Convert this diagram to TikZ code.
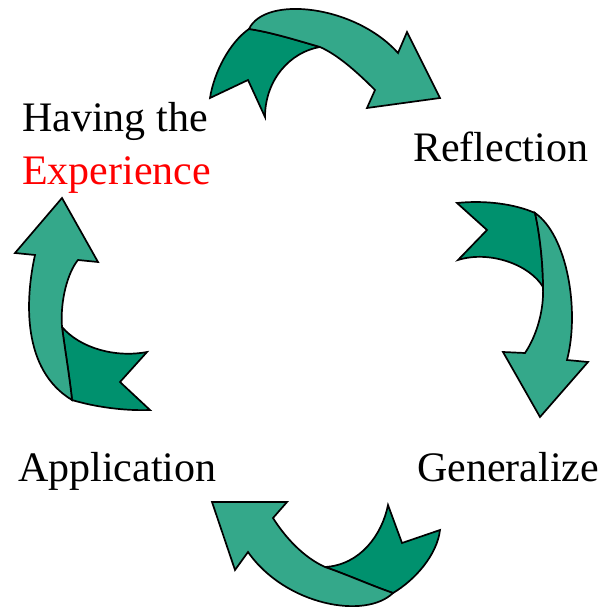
\documentclass[tikz,border=0pt]{standalone}
\usepackage{fontspec}
\setmainfont{Liberation Serif}
\definecolor{lightg}{RGB}{52,168,138}
\definecolor{darkg}{RGB}{0,145,110}
\tikzset{
  lightpart/.style={fill=lightg,draw=black,line width=1.7pt},
  darkpart/.style={fill=darkg,draw=black,line width=1.7pt},
  foldline/.style={draw=black,line width=1.7pt},
  lbl/.style={inner sep=0pt,anchor=base west,font=\fontsize{42}{50}\selectfont}
}
\begin{document}
\begin{tikzpicture}[x=1pt,y=-1pt]
\useasboundingbox (0,0) rectangle (603,609);
% ---- top arrow
\path[darkpart] (249,29) .. controls (230,42) and (214,72) .. (210,98)
  -- (248,80) -- (265,117) .. controls (265,80) and (290,52) .. (320,47)
  .. controls (296,40) and (270,32) .. (249,29) -- cycle;
\path[lightpart] (249,29) .. controls (265,-5) and (355,5) .. (398,53)
  -- (407,32) -- (440,98) -- (367,108) -- (375,90)
  .. controls (357,72) and (338,55) .. (320,47)
  .. controls (296,40) and (270,32) .. (249,29) -- cycle;
% ---- right arrow
\path[darkpart] (457,203) .. controls (485,200) and (515,204) .. (535,213)
  .. controls (540,235) and (543,265) .. (543,287)
  .. controls (530,265) and (490,250) .. (458,260)
  -- (487,230) -- cycle;
\path[lightpart] (535,213) .. controls (567,235) and (580,310) .. (567,360)
  -- (588,362) -- (540,417) -- (503,352) -- (525,353)
  .. controls (537,335) and (544,310) .. (543,287)
  .. controls (543,265) and (540,235) .. (535,213) -- cycle;
% ---- bottom arrow
\path[darkpart] (440,530) .. controls (437,555) and (415,580) .. (393,593)
  .. controls (370,585) and (348,575) .. (325,567)
  .. controls (360,565) and (382,535) .. (388,505)
  -- (402,543) -- cycle;
\path[lightpart] (393,593) .. controls (365,620) and (285,605) .. (248,552)
  -- (235,570) -- (212,502) -- (287,502) -- (273,518)
  .. controls (285,537) and (303,557) .. (325,567)
  .. controls (348,575) and (370,585) .. (393,593) -- cycle;
% ---- left arrow
\path[darkpart] (72,400) .. controls (95,407) and (125,411) .. (150,410)
  -- (120,382) -- (147,352)
  .. controls (115,358) and (80,348) .. (62,327)
  .. controls (65,350) and (70,380) .. (72,400) -- cycle;
\path[lightpart] (62,198) -- (98,262) -- (78,260)
  .. controls (68,272) and (60,300) .. (62,327)
  .. controls (65,350) and (70,380) .. (72,400)
  .. controls (22,370) and (25,300) .. (35,255)
  -- (15,253) -- cycle;
% ---- labels
\node[lbl] (having) at (22,132) {Having the};
\node[lbl,text=red] (exper) at (22,185) {Experience};
\node[lbl] (refl) at (413,162) {Reflection};
\node[lbl] (appl) at (18,481) {Application};
\node[lbl] (gen) at (417,481) {Generalize};
\end{tikzpicture}
\end{document}
